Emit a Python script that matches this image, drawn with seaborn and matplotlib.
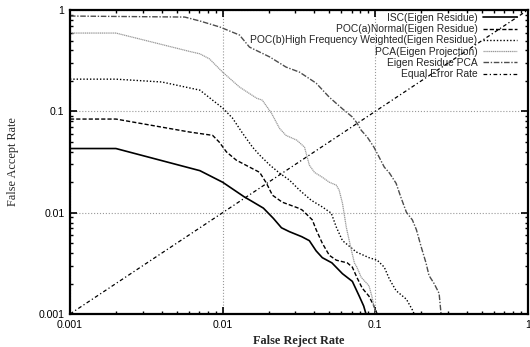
import numpy as np
import pandas as pd
import seaborn as sns
import matplotlib
matplotlib.use("Agg")
from matplotlib import pyplot as plt

# false reject rate (x) / false accept rate (y)
isc_fr = [0.001, 0.002, 0.0071, 0.01, 0.0139, 0.0155, 0.0185, 0.0215, 0.0243, 0.0274,
          0.033, 0.037, 0.041, 0.045, 0.052, 0.061, 0.0708, 0.0786, 0.084, 0.087]
isc_fa = [0.043, 0.043, 0.026, 0.020, 0.0143, 0.013, 0.0111, 0.0088, 0.0071, 0.0065,
          0.0058, 0.0053, 0.0042, 0.0036, 0.0032, 0.0025, 0.0021, 0.0015, 0.0012, 0.001]

poca_fr = [0.001, 0.002, 0.0061, 0.0086, 0.0095, 0.0106, 0.0123, 0.015, 0.0175, 0.0194,
           0.0212, 0.0246, 0.0319, 0.0333, 0.0387, 0.041, 0.045, 0.050, 0.0556, 0.0656,
           0.0708, 0.0758, 0.0822, 0.091, 0.098, 0.103]
poca_fa = [0.084, 0.084, 0.0625, 0.058, 0.0498, 0.0398, 0.033, 0.0282, 0.025, 0.0195,
           0.0149, 0.0127, 0.011, 0.0106, 0.0085, 0.0068, 0.005, 0.0038, 0.0034, 0.0032,
           0.0029, 0.0023, 0.0018, 0.0015, 0.0012, 0.001]

pocb_fr = [0.001, 0.002, 0.004, 0.0071, 0.0086, 0.01, 0.0116, 0.0135, 0.0157, 0.0175,
           0.0204, 0.0236, 0.0274, 0.0319, 0.038, 0.045, 0.0515, 0.0556, 0.061, 0.0697,
           0.075, 0.091, 0.103, 0.1146, 0.124, 0.137, 0.16, 0.175, 0.18]
pocb_fa = [0.208, 0.208, 0.195, 0.162, 0.129, 0.108, 0.086, 0.061, 0.0444, 0.037,
           0.0295, 0.0246, 0.021, 0.0167, 0.0133, 0.0114, 0.0099, 0.0072, 0.0053, 0.0045,
           0.0041, 0.0036, 0.0034, 0.0029, 0.0022, 0.0017, 0.0014, 0.0011, 0.001]

pca_fr = [0.001, 0.002, 0.0061, 0.0071, 0.0082, 0.01, 0.0129, 0.0167, 0.0182, 0.0209,
          0.0236, 0.026, 0.0306, 0.0344, 0.037, 0.040, 0.045, 0.050, 0.0556, 0.058,
          0.061, 0.0646, 0.0697, 0.073, 0.0758, 0.081, 0.091, 0.095, 0.098, 0.101]
pca_fa = [0.593, 0.593, 0.39, 0.37, 0.33, 0.244, 0.174, 0.135, 0.129, 0.096,
          0.068, 0.058, 0.052, 0.0444, 0.0295, 0.025, 0.0224, 0.020, 0.0187, 0.0167,
          0.0124, 0.0072, 0.0043, 0.0032, 0.0029, 0.0023, 0.0019, 0.0015, 0.0012, 0.001]

erpca_fr = [0.001, 0.00565, 0.0071, 0.0096, 0.0129, 0.015, 0.0204, 0.026, 0.0319, 0.041,
            0.050, 0.061, 0.0708, 0.0758, 0.081, 0.0887, 0.098, 0.106, 0.1146, 0.124,
            0.137, 0.147, 0.16, 0.175, 0.186, 0.2, 0.215, 0.225, 0.243, 0.262, 0.27]
erpca_fa = [0.873, 0.853, 0.78, 0.68, 0.567, 0.431, 0.344, 0.274, 0.244, 0.19,
            0.138, 0.106, 0.088, 0.077, 0.065, 0.0557, 0.0444, 0.0354, 0.0282, 0.0246,
            0.0195, 0.0143, 0.0101, 0.0085, 0.0068, 0.0046, 0.0032, 0.0024, 0.002, 0.0016, 0.001]

eer_rate = [0.001, 1.0]

labels = ["ISC(Eigen Residue)", "POC(a)Normal(Eigen Residue)",
          "POC(b)High Frequency Weighted(Eigen Residue)", "PCA(Eigen Projection)",
          "Eigen Residue PCA", "Equal Error Rate"]

sns.set_style("ticks")
plt.rcParams['font.family'] = ['Liberation Sans', 'DejaVu Sans']

fig = plt.figure(figsize=(5.3, 3.47), dpi=100)
ax = fig.add_axes([0.132, 0.095, 0.864, 0.876])

series = [
    (isc_fr, isc_fa, dict(color='black', lw=1.2, linestyle='-')),
    (poca_fr, poca_fa, dict(color='black', lw=1.0, linestyle=(0, (3, 1.5)))),
    (pocb_fr, pocb_fa, dict(color='black', lw=1.0, linestyle=(0, (1, 1.4)))),
    (pca_fr, pca_fa, dict(color='0.6', lw=0.9, linestyle=(0, (1, 0.5)))),
    (erpca_fr, erpca_fa, dict(color='0.3', lw=1.0, linestyle=(0, (4, 1.2, 1, 1.2)))),
    (eer_rate, eer_rate, dict(color='black', lw=0.9, linestyle=(0, (3, 2, 1, 2)))),
]
for (fr, fa, style), lab in zip(series, labels):
    df = pd.DataFrame({'fr': fr, 'fa': fa})
    sns.lineplot(data=df, x='fr', y='fa', ax=ax, estimator=None, sort=False,
                 label=lab, **style)

ax.set_xscale('log')
ax.set_yscale('log')
ax.set_xlim(0.001, 1)
ax.set_ylim(0.001, 1)
ax.set_xticks([0.001, 0.01, 0.1, 1])
ax.set_xticklabels(['0.001', '0.01', '0.1', '1'])
ax.set_yticks([0.001, 0.01, 0.1, 1])
ax.set_yticklabels(['0.001', '0.01', '0.1', '1'])
ax.grid(which='major', linestyle=':', color='0.6', lw=0.8)
ax.tick_params(which='both', direction='in', top=True, right=True, labelsize=7.6, colors='black')
ax.tick_params(which='major', length=5, width=1.2, pad=4)
ax.tick_params(which='minor', length=2.5, width=1.0)
for sp in ax.spines.values():
    sp.set_linewidth(1.6)
    sp.set_color('black')

ax.set_xlabel('False Reject Rate', family=['Liberation Serif'], fontsize=8.8, fontweight='bold', labelpad=4)
ax.set_ylabel('False Accept Rate', family=['Liberation Serif'], fontsize=8.8, labelpad=14)

ax.legend(loc='upper right', bbox_to_anchor=(0.98, 0.997), frameon=False, markerfirst=False,
          fontsize=7.4, handlelength=3.3, handletextpad=0.5, labelspacing=0.12,
          borderpad=0.2, borderaxespad=0)

plt.savefig('out.png', dpi=100)
